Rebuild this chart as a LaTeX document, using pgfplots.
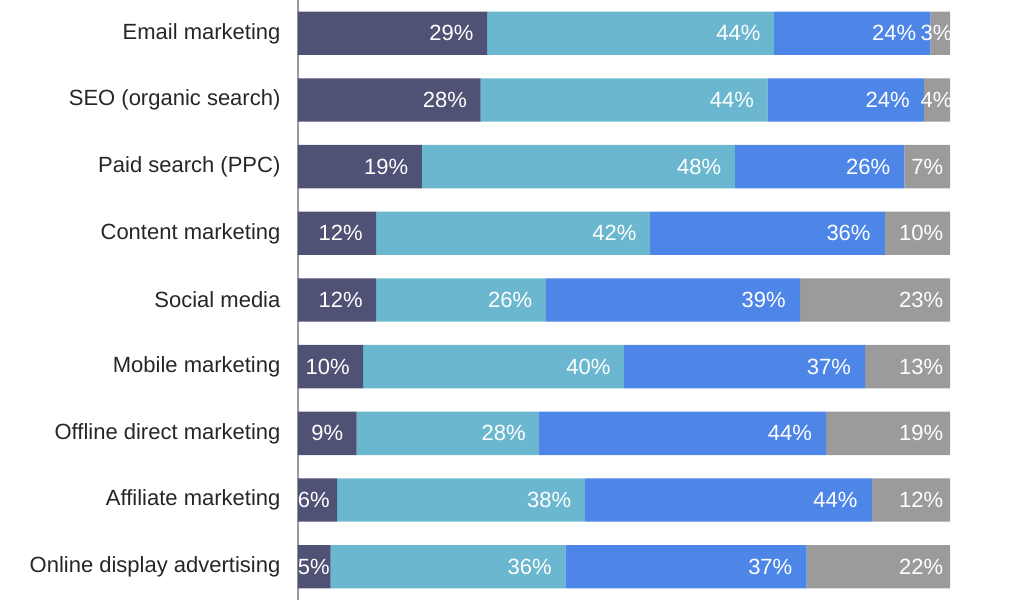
\documentclass[border=0pt]{standalone}
\usepackage{pgfplots}
\pgfplotsset{compat=1.18}
\usepackage{fontspec}
\setmainfont{Liberation Sans}
\definecolor{cA}{HTML}{4F5175}
\definecolor{cB}{HTML}{6BB7CF}
\definecolor{cC}{HTML}{4E86E8}
\definecolor{cD}{HTML}{9B9B9B}
\begin{document}
\begin{tikzpicture}
\begin{axis}[
  at={(0,0)}, anchor=south west,
  scale only axis,
  width=489pt, height=450pt,
  xbar stacked,
  bar width=0.65,
  xmin=0, xmax=100,
  ymin=-0.5, ymax=8.5,
  y dir=reverse,
  axis x line=none,
  axis y line*=left,
  y axis line style={draw=gray!80, line width=0.9pt},
  ytick={0,...,8},
  yticklabels={Email marketing, SEO (organic search), Paid search (PPC), Content marketing, Social media, Mobile marketing, Offline direct marketing, Affiliate marketing, Online display advertising},
  major tick length=0pt,
  yticklabel style={font=\fontsize{16.5}{18}\selectfont, text=black!85, inner sep=0pt, xshift=-13pt},
  point meta=explicit,
  /pgf/number format/assume math mode=true,
  visualization depends on={rawx \as \myval},
  nodes near coords={\pgfmathprintnumber{\pgfplotspointmeta}\%},
  every node near coord/.append style={anchor=east, text=white, font=\fontsize{16.5}{18}\selectfont, inner sep=0pt},
]
\addplot[fill=cA, draw=none, every node near coord/.append style={xshift={max(\myval*2.445-10, 24-\myval*2.445)*1pt}}] coordinates {(29,0) [29] (28,1) [28] (19,2) [19] (12,3) [12] (12,4) [12] (10,5) [10] (9,6) [9] (6,7) [6] (5,8) [5]};
\addplot[fill=cB, draw=none, every node near coord/.append style={xshift={(\myval*2.445-10)*1pt}}] coordinates {(44,0) [44] (44,1) [44] (48,2) [48] (42,3) [42] (26,4) [26] (40,5) [40] (28,6) [28] (38,7) [38] (36,8) [36]};
\addplot[fill=cC, draw=none, every node near coord/.append style={xshift={(\myval*2.445-10.5)*1pt}}] coordinates {(24,0) [24] (24,1) [24] (26,2) [26] (36,3) [36] (39,4) [39] (37,5) [37] (44,6) [44] (44,7) [44] (37,8) [37]};
\addplot[fill=cD, draw=none, every node near coord/.append style={xshift={(\myval*2.445+ifthenelse(\myval<5,2,-5))*1pt}}] coordinates {(3,0) [3] (4,1) [4] (7,2) [7] (10,3) [10] (23,4) [23] (13,5) [13] (19,6) [19] (12,7) [12] (22,8) [22]};
\end{axis}
\pgfresetboundingbox
\path[use as bounding box] (-223.5pt,-6.75pt) rectangle (544.5pt,450pt);
\end{tikzpicture}
\end{document}
